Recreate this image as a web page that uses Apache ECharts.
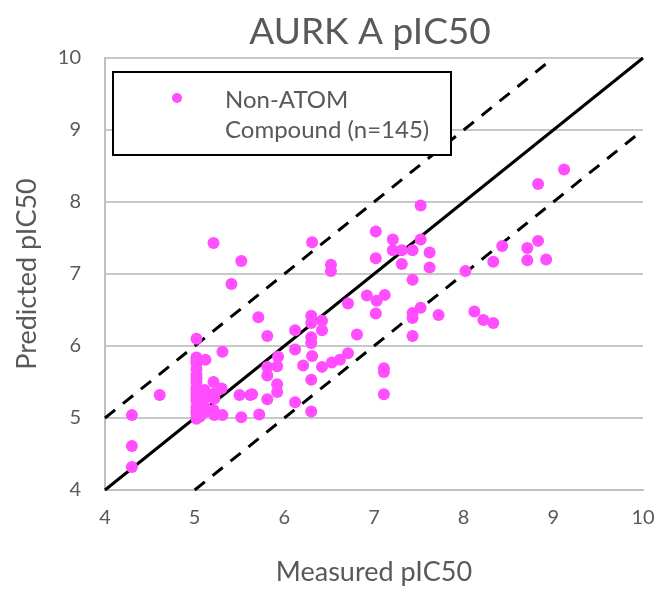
<!DOCTYPE html>
<html>
<head>
<meta charset="utf-8">
<script src="https://cdn.jsdelivr.net/npm/echarts@6/dist/echarts.min.js"></script>
<style>html,body{margin:0;padding:0;background:#fff}#c{width:664px;height:591px}</style>
</head>
<body>
<div id="c"></div>
<script>
var measured = [4.3,4.3,4.3,4.61,
5.02,5.02,5.02,5.02,5.02,5.02,5.02,5.02,5.02,5.02,5.02,5.02,5.02,5.02,5.02,5.02,5.02,
5.12,5.11,5.11,5.11,5.11,5.06,5.21,5.22,5.22,5.21,5.22,5.3,5.31,5.31,5.5,5.52,5.62,
5.21,5.52,5.41,5.71,5.81,5.72,5.81,5.81,5.81,5.93,5.92,5.92,5.92,5.64,
6.12,6.12,6.12,6.21,6.3,6.3,6.3,6.3,6.31,6.3,6.3,6.31,6.42,6.42,6.42,6.53,6.62,6.52,6.52,
6.71,6.71,6.81,6.92,7.03,7.12,7.02,7.02,7.02,7.11,7.11,7.11,
7.21,7.21,7.31,7.31,7.43,7.52,7.62,7.62,7.43,7.43,7.43,7.52,7.43,7.72,7.52,
8.02,8.12,8.22,8.33,8.33,8.43,8.71,8.71,8.83,8.92,8.83,9.12];
var predicted = [4.32,4.61,5.04,5.32,
6.1,5.84,5.76,5.68,5.6,5.5,5.42,5.33,5.24,5.15,5.06,4.99,5.8,5.55,5.38,5.28,5.1,
5.81,5.39,5.27,5.16,5.08,5.02,5.5,5.34,5.27,5.11,5.04,5.41,5.92,5.04,5.32,5.01,5.32,
7.43,7.18,6.86,6.4,6.14,5.05,5.26,5.59,5.71,5.85,5.72,5.47,5.36,5.33,
6.22,5.95,5.22,5.73,6.42,6.32,6.12,6.04,5.86,5.53,5.09,7.44,6.35,6.22,5.71,5.77,5.81,7.13,7.04,
6.59,5.9,6.16,6.7,6.63,6.71,6.45,7.59,7.22,5.69,5.64,5.33,
7.48,7.33,7.33,7.14,7.33,7.48,7.3,7.09,6.92,6.46,6.39,6.53,6.14,6.43,7.95,
7.04,6.48,6.36,6.32,7.17,7.39,7.36,7.19,7.46,7.2,8.25,8.45];
var xTicks = [4,5,6,7,8,9,10];
var yTicks = [4,5,6,7,8,9,10];
var identityLine = [[4,4],[10,10]];
var upperLine = [[4,5],[9,10]];
var lowerLine = [[5,4],[10,9]];
var legendLine1 = 'Non-ATOM';
var legendLine2 = 'Compound (n=145)';

var pts = measured.map(function(m,i){return [m, predicted[i]];});
var chart = echarts.init(document.getElementById('c'));
var gray = '#595959';
var ff = 'Lato, sans-serif';
chart.setOption({
  animation:false,
  backgroundColor:'#fff',
  title:{text:'AURK A pIC50', left:365, top:9, textAlign:'center',
    textStyle:{fontFamily:ff, fontSize:37, fontWeight:'normal', color:gray}},
  grid:{left:105, right:21, top:58, bottom:97},
  xAxis:{type:'value', min:xTicks[0], max:xTicks[xTicks.length-1], interval:1,
    name:'Measured pIC50', nameLocation:'middle', nameGap:69,
    nameTextStyle:{fontFamily:ff, fontSize:27, color:gray},
    axisLine:{show:true, lineStyle:{color:'#bfbfbf', width:2}},
    axisTick:{show:false}, splitLine:{show:false},
    axisLabel:{color:gray, fontSize:20, fontFamily:ff, margin:18}},
  yAxis:{type:'value', min:yTicks[0], max:yTicks[yTicks.length-1], interval:1,
    name:'Predicted pIC50', nameLocation:'middle', nameGap:64, nameRotate:90,
    nameTextStyle:{fontFamily:ff, fontSize:27, color:gray},
    axisLine:{show:true, lineStyle:{color:'#bfbfbf', width:2}},
    axisTick:{show:false},
    splitLine:{show:true, lineStyle:{color:'#c8c8c8', width:2}},
    axisLabel:{color:gray, fontSize:20, fontFamily:ff, margin:24}},
  series:[
    {type:'line', data:identityLine, symbol:'none', silent:true, z:3,
      lineStyle:{color:'#000', width:3}},
    {type:'line', data:upperLine, symbol:'none', silent:true, z:3,
      lineStyle:{color:'#000', width:3, type:[13,10]}},
    {type:'line', data:lowerLine, symbol:'none', silent:true, z:3,
      lineStyle:{color:'#000', width:3, type:[13,10]}},
    {type:'scatter', name:legendLine1 + ' ' + legendLine2, data:pts, symbol:'circle', symbolSize:12, z:4,
      itemStyle:{color:'#ff4dff', opacity:1}}
  ],
  graphic:[
    {type:'group', x:113, y:72, z:100, children:[
      {type:'rect', z:100, shape:{x:0,y:0,width:338,height:83},
        style:{fill:'#ffffff', stroke:'#000', lineWidth:2}},
      {type:'circle', z:101, shape:{cx:64, cy:26, r:5}, style:{fill:'#ff4dff'}},
      {type:'text', z:101, x:112, y:28, style:{text:legendLine1, fill:gray, font:'24px Lato, sans-serif', textVerticalAlign:'middle'}},
      {type:'text', z:101, x:112, y:58, style:{text:legendLine2, fill:gray, font:'24px Lato, sans-serif', textVerticalAlign:'middle'}}
    ]}
  ]
});
</script>
</body>
</html>
